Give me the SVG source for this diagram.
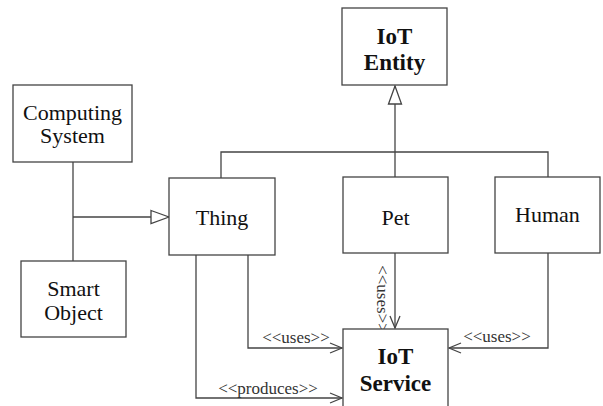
<svg xmlns="http://www.w3.org/2000/svg" width="603" height="406" viewBox="0 0 603 406">
  <style>
    .box { fill: #ffffff; stroke: #444444; stroke-width: 1.3; }
    .name { font-size: 22px; fill: #111111; text-anchor: middle; }
    .bold { font-weight: bold; font-size: 23px; }
    .line { fill: none; stroke: #444444; stroke-width: 1.3; }
    .lbl { font-size: 17px; fill: #333333; text-anchor: middle; }
  </style>
  <defs>
    <marker id="open" markerWidth="14" markerHeight="12" refX="13" refY="6" orient="auto" markerUnits="userSpaceOnUse">
      <path d="M1,1 L13,6 L1,11" fill="none" stroke="#444444" stroke-width="1.3"/>
    </marker>
    <marker id="inherit" markerWidth="20" markerHeight="16" refX="19" refY="8" orient="auto" markerUnits="userSpaceOnUse">
      <path d="M1,1.5 L19,8 L1,14.5 Z" fill="#ffffff" stroke="#444444" stroke-width="1.3"/>
    </marker>
  </defs>

  <g font-family="Liberation Serif, Times New Roman, serif">
  <g id="connectors">
    <!-- generalisation to IoT Entity -->
    <path class="line" d="M221,178 V152 H548 V177"/>
    <path class="line" d="M395,177 V152"/>
    <path class="line" d="M395,152 V86" marker-end="url(#inherit)"/>
    <!-- Computing System / Smart Object generalise to Thing -->
    <path class="line" d="M73,162 V261"/>
    <path class="line" d="M73,217 H169" marker-end="url(#inherit)"/>
    <!-- uses / produces -->
    <path class="line" d="M395,253 V328" marker-end="url(#open)"/>
    <path class="line" d="M248,255 V348 H342" marker-end="url(#open)"/>
    <path class="line" d="M196,255 V398 H342" marker-end="url(#open)"/>
    <path class="line" d="M548,253 V348 H449" marker-end="url(#open)"/>
    <text class="lbl" x="296" y="343">&lt;&lt;uses&gt;&gt;</text>
    <text class="lbl" x="268" y="394">&lt;&lt;produces&gt;&gt;</text>
    <text class="lbl" x="497" y="342">&lt;&lt;uses&gt;&gt;</text>
    <text class="lbl" transform="translate(377,299) rotate(90)" x="0" y="0">&lt;&lt;uses&gt;&gt;</text>
  </g>

  <g id="iot-entity">
    <rect class="box" x="342" y="8" width="105" height="77"/>
    <text class="name bold" x="394.5" y="44">IoT</text>
    <text class="name bold" x="394.5" y="70">Entity</text>
  </g>
  <g id="computing-system">
    <rect class="box" x="13" y="85" width="119" height="77"/>
    <text class="name" x="72.5" y="120">Computing</text>
    <text class="name" x="72.5" y="143">System</text>
  </g>
  <g id="smart-object">
    <rect class="box" x="21" y="261" width="105" height="76"/>
    <text class="name" x="73.5" y="296">Smart</text>
    <text class="name" x="73.5" y="320">Object</text>
  </g>
  <g id="thing">
    <rect class="box" x="169" y="178" width="106" height="77"/>
    <text class="name" x="222" y="225">Thing</text>
  </g>
  <g id="pet">
    <rect class="box" x="343" y="177" width="105" height="76"/>
    <text class="name" x="395.5" y="225">Pet</text>
  </g>
  <g id="human">
    <rect class="box" x="495" y="177" width="105" height="76"/>
    <text class="name" x="547.5" y="222">Human</text>
  </g>
  <g id="iot-service">
    <rect class="box" x="343" y="329" width="105" height="90"/>
    <text class="name bold" x="395.5" y="364">IoT</text>
    <text class="name bold" x="395.5" y="391">Service</text>
  </g>
  </g>
</svg>
